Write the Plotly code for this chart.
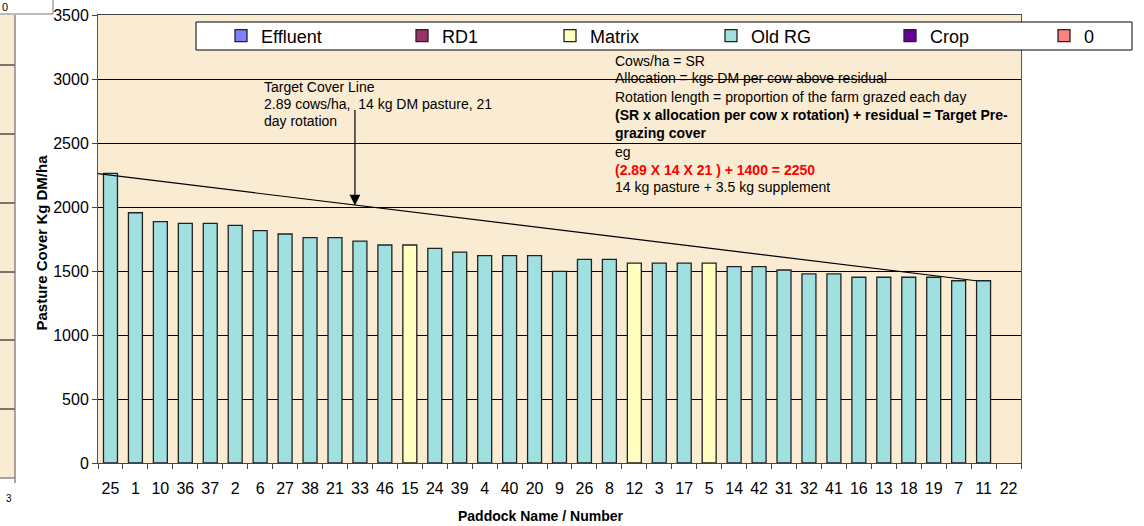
import plotly.graph_objects as go

# Paddocks in grazing order and their pasture cover (kg DM/ha)
paddocks = ["25", "1", "10", "36", "37", "2", "6", "27", "38", "21", "33", "46",
            "15", "24", "39", "4", "40", "20", "9", "26", "8", "12", "3", "17",
            "5", "14", "42", "31", "32", "41", "16", "13", "18", "19", "7", "11", "22"]
cover = [2262, 1955, 1885, 1872, 1872, 1857, 1815, 1789, 1760, 1760, 1734, 1703,
         1703, 1677, 1648, 1620, 1620, 1620, 1497, 1591, 1591, 1562, 1562, 1562,
         1562, 1534, 1534, 1508, 1477, 1477, 1451, 1451, 1451, 1451, 1424, 1424, None]
matrix_paddocks = ["15", "12", "5"]

series_names = ["Effluent", "RD1", "Matrix", "Old RG", "Crop", "0"]

# Target cover line (category position, kg DM/ha)
target_pos = [-0.5, 34.7]
target_cover = [2260, 1424]

# styling
FONT = "Liberation Sans, Arial, sans-serif"
PARCHMENT = "#FAEBD3"
SERIES_COLORS = {
    "Effluent": "#8080FF",
    "RD1": "#993366",
    "Matrix": "#FFFFC0",
    "Old RG": "#A0E0E0",
    "Crop": "#660099",
    "0": "#FF8080",
}
LEGEND_SYMBOL_PX = [241, 422, 570, 731, 910, 1064]

W, H = 1144, 526
L, R, T, B = 98, 123, 15, 63
PW, PH = W - L - R, H - T - B


def px_x(px):
    return (px - L) / PW


def px_y(py):
    return (H - B - py) / PH


def series_of(p):
    return "Matrix" if p in matrix_paddocks else "Old RG"


fig = go.Figure()

for i, name in enumerate(series_names):
    ys = [c if (c is not None and series_of(p) == name) else None
          for p, c in zip(paddocks, cover)]
    fig.add_trace(go.Bar(
        x=paddocks,
        y=ys,
        name=name,
        marker=dict(color=SERIES_COLORS[name], line=dict(color="#222", width=1.3)),
        legend="legend" if i == 0 else f"legend{i + 1}",
        hovertemplate="<b>Paddock %{x}</b><br>Cover: %{y:,.0f} kg DM/ha<extra>"
                      + name + "</extra>",
    ))

# target cover line on an overlaid numeric axis so it can run edge to edge
fig.add_trace(go.Scatter(
    x=target_pos,
    y=target_cover,
    xaxis="x2",
    mode="lines",
    line=dict(color="black", width=1.2),
    showlegend=False,
    hoverinfo="skip",
))

# one legend per series so the entries keep the uneven spacing of the original
legends = {}
for i, sx in enumerate(LEGEND_SYMBOL_PX):
    key = "legend" if i == 0 else f"legend{i + 1}"
    legends[key] = dict(
        x=px_x(sx - 20), xanchor="left",
        y=px_y(36), yanchor="middle",
        orientation="h",
        bgcolor="rgba(0,0,0,0)", borderwidth=0,
        font=dict(family=FONT, size=18, color="black"),
    )

fig.update_layout(
    width=W, height=H,
    margin=dict(l=L, r=R, t=T, b=B, autoexpand=False),
    paper_bgcolor="white",
    plot_bgcolor=PARCHMENT,
    font=dict(family=FONT, size=16, color="black"),
    barmode="relative",
    bargap=0.44,
    **legends,
    xaxis=dict(
        type="category",
        categoryorder="array", categoryarray=paddocks,
        showgrid=False, automargin=False,
        showline=True, mirror=True, linecolor="#444", linewidth=1,
        ticks="outside", tickson="boundaries", ticklen=5, tickcolor="#444",
        ticklabelstandoff=11, tickangle=0,
        tickfont=dict(size=16),
    ),
    xaxis2=dict(
        overlaying="x", range=[-0.5, len(paddocks) - 0.5],
        visible=False,
    ),
    yaxis=dict(
        range=[0, 3500], dtick=500, automargin=False,
        showgrid=True, gridcolor="black", gridwidth=1,
        zeroline=False,
        showline=True, mirror=True, linecolor="#555", linewidth=1,
        ticks="outside", ticklen=5, tickcolor="#444",
        tickfont=dict(size=16),
    ),
    showlegend=True,
)

# axis titles
fig.add_annotation(
    text="<b>Pasture Cover Kg DM/ha</b>", textangle=-90,
    xref="paper", yref="paper", x=px_x(30), y=px_y(243),
    showarrow=False, font=dict(size=15),
)
fig.add_annotation(
    text="<b>Paddock Name / Number</b>",
    xref="paper", yref="paper", x=px_x(540), y=px_y(516),
    yanchor="middle", showarrow=False, font=dict(size=14),
)

# target cover line notes + arrow
left_note = ["Target Cover Line",
             "2.89 cows/ha,&nbsp; 14 kg DM pasture, 21",
             "day rotation"]
for line, yc in zip(left_note, [87, 104, 121]):
    fig.add_annotation(
        text=line, xref="paper", yref="paper", x=px_x(262), y=px_y(yc),
        xanchor="left", yanchor="middle", showarrow=False,
        font=dict(size=14),
    )
fig.add_annotation(
    text="", xref="x2", yref="y", x=9.8, y=2012,
    ax=0, ay=-97, showarrow=True,
    arrowhead=2, arrowsize=1.8, arrowwidth=1.2, arrowcolor="black",
)

right_note = [
    ("Cows/ha = SR", "black", False),
    ("Allocation = kgs DM per cow above residual", "black", False),
    ("Rotation length = proportion of the farm grazed each day", "black", False),
    ("(SR x allocation per cow x rotation) + residual = Target Pre-", "black", True),
    ("grazing cover", "black", True),
    ("eg", "black", False),
    ("(2.89 X 14 X 21 ) + 1400 = 2250", "#FF0000", True),
    ("14 kg pasture + 3.5 kg supplement", "black", False),
]
for (line, color, bold), yc in zip(right_note, [61, 78.5, 96.5, 115, 132.5, 151.5, 170, 186.5]):
    fig.add_annotation(
        text=f"<b>{line}</b>" if bold else line,
        xref="paper", yref="paper", x=px_x(613), y=px_y(yc),
        xanchor="left", yanchor="middle", showarrow=False,
        font=dict(size=14, color=color),
    )

shapes = [
    # legend frame
    dict(type="rect", xref="paper", yref="paper", layer="above",
         x0=px_x(196), x1=px_x(1132), y0=px_y(50), y1=px_y(22),
         fillcolor="white", line=dict(color="black", width=1)),
    # neighbouring chart, clipped at the left edge
    dict(type="rect", xref="paper", yref="paper", layer="above",
         x0=px_x(-2), x1=px_x(15), y0=px_y(478), y1=px_y(15),
         fillcolor=PARCHMENT, line=dict(width=0)),
]
for gy in [65, 134, 203, 272, 340, 409]:
    shapes.append(dict(type="line", xref="paper", yref="paper", layer="above",
                       x0=px_x(-2), x1=px_x(15), y0=px_y(gy), y1=px_y(gy),
                       line=dict(color="black", width=1)))
shapes += [
    dict(type="line", xref="paper", yref="paper", layer="above",
         x0=px_x(15), x1=px_x(15), y0=px_y(483), y1=px_y(15),
         line=dict(color="#777", width=1.3)),
    dict(type="line", xref="paper", yref="paper", layer="above",
         x0=px_x(-2), x1=px_x(15), y0=px_y(478), y1=px_y(478),
         line=dict(color="#777", width=1.3)),
    dict(type="rect", xref="paper", yref="paper", layer="above",
         x0=px_x(-5), x1=px_x(53), y0=px_y(14), y1=px_y(-5),
         fillcolor="white", line=dict(color="#777", width=1)),
]
fig.update_layout(shapes=shapes)
fig.add_annotation(text="0", xref="paper", yref="paper", x=px_x(5), y=px_y(7),
                   xanchor="center", yanchor="middle", showarrow=False,
                   font=dict(size=11))
fig.add_annotation(text="3", xref="paper", yref="paper", x=px_x(9), y=px_y(498),
                   xanchor="center", yanchor="middle", showarrow=False,
                   font=dict(size=10))

# drop the browser's default body margin so the figure sits at the page origin
fig.write_html(
    "out.html",
    config={"displayModeBar": False},
    post_script="document.body.style.margin='0';window.dispatchEvent(new Event('resize'));",
)
